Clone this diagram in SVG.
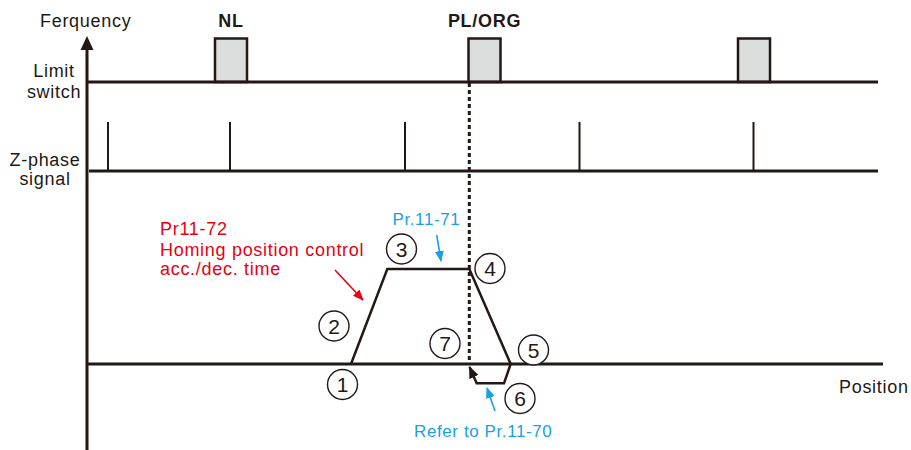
<svg xmlns="http://www.w3.org/2000/svg" width="911" height="450" viewBox="0 0 911 450">
<style>
.ln{stroke:#231815;stroke-width:3;fill:none}
.pulse{stroke:#231815;stroke-width:2;fill:none}
.box{stroke:#231815;stroke-width:2.5;fill:#dcdddd}
.t{font-family:"Liberation Sans",Arial,sans-serif;font-size:18px;fill:#231815;letter-spacing:0.7px}
.b{font-weight:bold}
.red{font-family:"Liberation Sans",Arial,sans-serif;font-size:18px;fill:#e60012;letter-spacing:0.7px}
.blue{font-family:"Liberation Sans",Arial,sans-serif;font-size:17px;fill:#1a9fe0;letter-spacing:0.6px}
.c circle{fill:#fff;stroke:#231815;stroke-width:1.4}
.c text{font-family:"Liberation Sans",Arial,sans-serif;font-size:21px;fill:#231815;text-anchor:middle}
.mid{text-anchor:middle}
</style>
<defs>
<marker id="aRed" markerUnits="userSpaceOnUse" markerWidth="11" markerHeight="9" refX="10" refY="4.5" orient="auto"><path d="M0,0 L11,4.5 L0,9 z" fill="#e60012"/></marker>
<marker id="aBlue" markerUnits="userSpaceOnUse" markerWidth="11" markerHeight="9" refX="10" refY="4.5" orient="auto"><path d="M0,0 L11,4.5 L0,9 z" fill="#1a9fe0"/></marker>
<marker id="aBlk" markerUnits="userSpaceOnUse" markerWidth="12" markerHeight="10" refX="11" refY="5" orient="auto"><path d="M0,0 L12,5 L0,10 z" fill="#231815"/></marker>
</defs>
<rect width="911" height="450" fill="#fff"/>

<g id="axes">
<line class="ln" x1="87" y1="48" x2="87" y2="450"/>
<polygon points="87,36 80.5,50 93.5,50" fill="#231815"/>
<line class="ln" x1="87" y1="364" x2="883" y2="364"/>
<text class="t" x="40" y="27">Ferquency</text>
<text class="t" x="839" y="393">Position</text>
</g>

<g id="limit-switch">
<rect class="box" x="215" y="38.5" width="32" height="43.5"/>
<rect class="box" x="468.5" y="38.5" width="32" height="43.5"/>
<rect class="box" x="738" y="38.5" width="32" height="43.5"/>
<line class="ln" x1="87" y1="82" x2="878" y2="82"/>
<text class="t mid" x="54" y="77">Limit</text>
<text class="t mid" x="54" y="98">switch</text>
<text class="t b mid" x="231" y="27">NL</text>
<text class="t b mid" x="484.5" y="27">PL/ORG</text>
</g>

<g id="z-phase">
<line class="ln" x1="89" y1="171" x2="878" y2="171"/>
<line class="pulse" x1="108" y1="122" x2="108" y2="171"/>
<line class="pulse" x1="230" y1="122" x2="230" y2="171"/>
<line class="pulse" x1="405" y1="122" x2="405" y2="171"/>
<line class="pulse" x1="579.5" y1="122" x2="579.5" y2="171"/>
<line class="pulse" x1="753.5" y1="122" x2="753.5" y2="171"/>
<text class="t mid" x="45" y="166">Z-phase</text>
<text class="t mid" x="45" y="185">signal</text>
</g>

<g id="connectors">
<line x1="469.3" y1="83" x2="469.3" y2="364" stroke="#231815" stroke-width="3" stroke-dasharray="4,3"/>
<polyline points="351,364 387.3,269 469.3,269 510.7,364" fill="none" stroke="#231815" stroke-width="2.5" stroke-linejoin="miter"/>
<polyline points="510.7,364 504,383.3 476.7,383.3 469.5,367" fill="none" stroke="#231815" stroke-width="2.5" marker-end="url(#aBlk)"/>
<line x1="335" y1="270" x2="363" y2="300" stroke="#e60012" stroke-width="1.6" marker-end="url(#aRed)"/>
<line x1="436.7" y1="235" x2="441" y2="261" stroke="#1a9fe0" stroke-width="1.6" marker-end="url(#aBlue)"/>
<line x1="495" y1="411" x2="487" y2="388" stroke="#1a9fe0" stroke-width="1.6" marker-end="url(#aBlue)"/>
</g>

<g id="labels">
<text class="red" x="160" y="235">Pr11-72</text>
<text class="red" x="160" y="256">Homing position control</text>
<text class="red" x="160" y="275">acc./dec. time</text>
<text class="blue" x="392.5" y="225">Pr.11-71</text>
<text class="blue" x="414" y="437">Refer to Pr.11-70</text>
</g>

<g id="step1" class="c"><circle cx="342.5" cy="384.5" r="15"/><text x="342.5" y="392">1</text></g>
<g id="step2" class="c"><circle cx="334" cy="326" r="15"/><text x="334" y="333.5">2</text></g>
<g id="step3" class="c"><circle cx="401.5" cy="249" r="15"/><text x="401.5" y="256.5">3</text></g>
<g id="step4" class="c"><circle cx="490" cy="268.5" r="15"/><text x="490" y="276">4</text></g>
<g id="step5" class="c"><circle cx="533.5" cy="350" r="15"/><text x="533.5" y="357.5">5</text></g>
<g id="step6" class="c"><circle cx="520" cy="398.5" r="15"/><text x="520" y="406">6</text></g>
<g id="step7" class="c"><circle cx="445" cy="343.5" r="15"/><text x="445" y="351">7</text></g>
</svg>
